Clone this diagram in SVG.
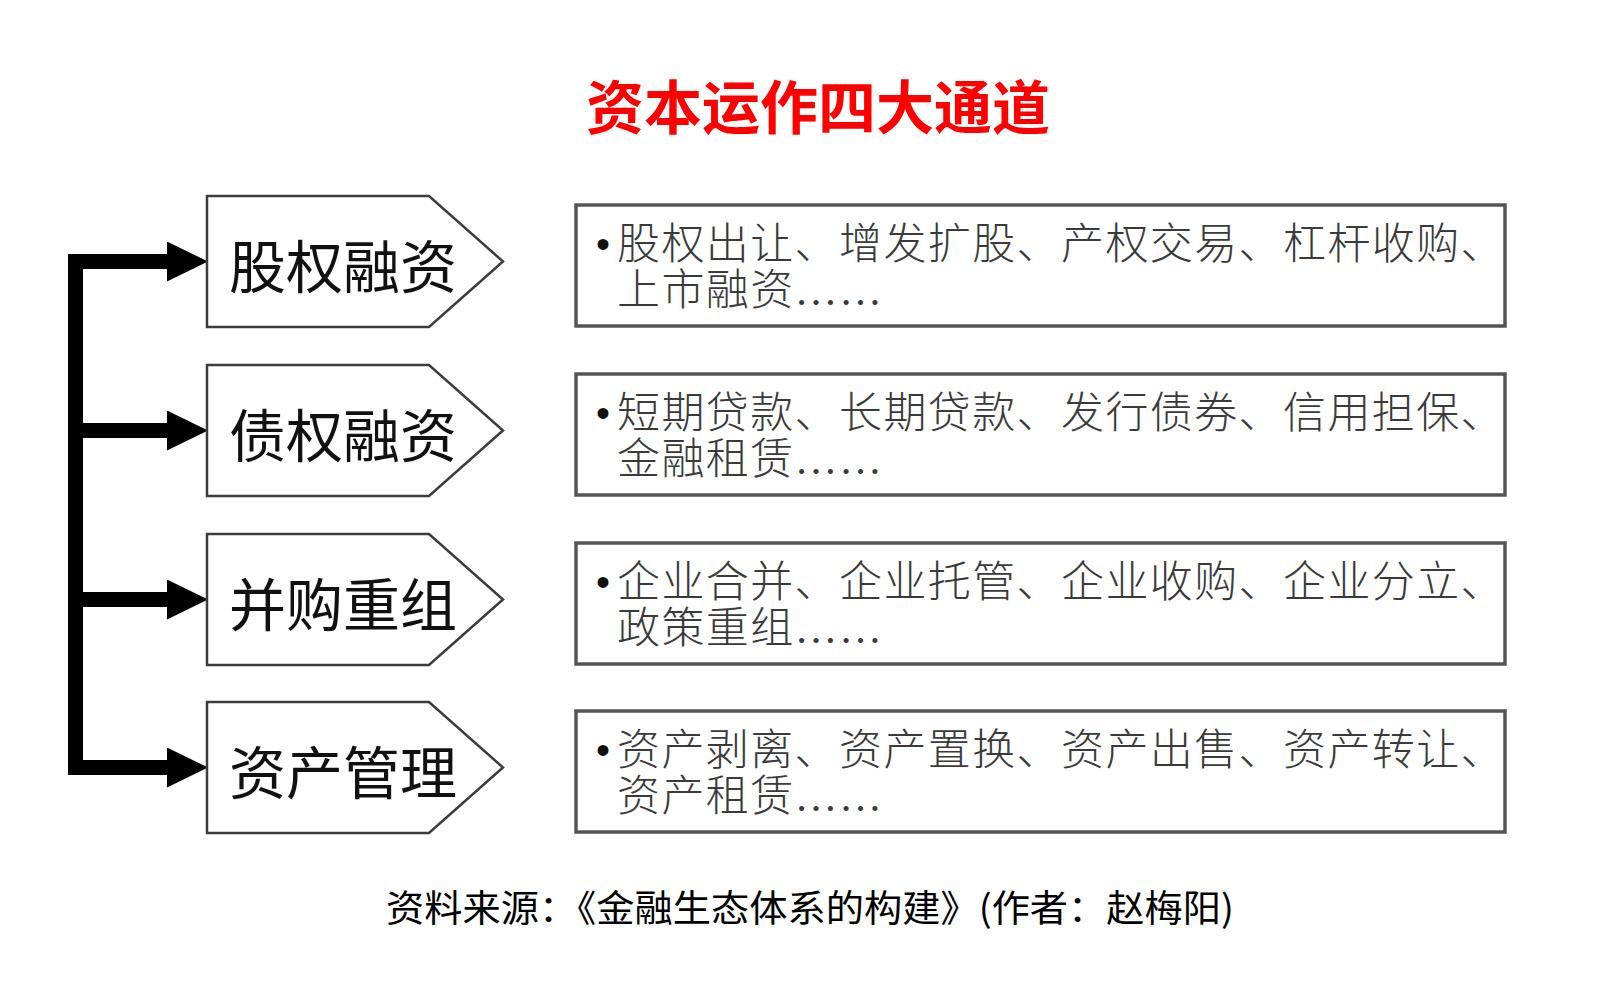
<svg xmlns="http://www.w3.org/2000/svg" width="1606" height="988" viewBox="0 0 1606 988">
<style>
.title{font-family:"Noto Sans CJK SC","Noto Sans",sans-serif;font-weight:700;font-size:58px;fill:#ff0000;text-anchor:middle}
.pent{fill:#ffffff;stroke:#3c3c3c;stroke-width:2.5}
.plabel{font-family:"Noto Sans CJK SC","Noto Sans",sans-serif;font-weight:400;font-size:57px;fill:#111111}
.box{fill:#ffffff;stroke:#555555;stroke-width:3.5}
.desc{font-family:"Noto Sans CJK SC","Noto Sans",sans-serif;font-weight:300;font-size:43px;letter-spacing:1.4px;fill:#3a3a3a}
.ell{font-family:"Liberation Serif",serif}
.bullet{font-family:"Liberation Sans",sans-serif;font-size:40px;fill:#111111;text-anchor:middle}
.conn{fill:none;stroke:#000000;stroke-width:15}
.foot{font-family:"Noto Sans CJK SC","Noto Sans",sans-serif;font-weight:400;font-size:37px;fill:#000000}
</style>
<defs>
<marker id="ah" markerUnits="userSpaceOnUse" markerWidth="42" markerHeight="40" refX="0" refY="20" orient="auto">
<path d="M0,0 L41,20 L0,40 Z" fill="#000000"/>
</marker>
</defs>
<rect width="1606" height="988" fill="#ffffff"/>
<g id="title"><text class="title" x="818" y="129">资本运作四大通道</text></g>
<g id="connectors">
<path class="conn" d="M75.5 254 V775"/>
<path class="conn" d="M68 261.5 H167" marker-end="url(#ah)"/>
<path class="conn" d="M75.5 430.5 H167" marker-end="url(#ah)"/>
<path class="conn" d="M75.5 599.5 H167" marker-end="url(#ah)"/>
<path class="conn" d="M68 767.5 H167" marker-end="url(#ah)"/>
</g>
<g id="node-equity">
<polygon class="pent" points="207,196 429,196 503,261.5 429,327 207,327"/>
<text class="plabel" x="229" y="288">股权融资</text>
</g>
<g id="node-debt">
<polygon class="pent" points="207,365 429,365 503,430.5 429,496 207,496"/>
<text class="plabel" x="229" y="457">债权融资</text>
</g>
<g id="node-ma">
<polygon class="pent" points="207,534 429,534 503,599.5 429,665 207,665"/>
<text class="plabel" x="229" y="626">并购重组</text>
</g>
<g id="node-asset">
<polygon class="pent" points="207,702 429,702 503,767.5 429,833 207,833"/>
<text class="plabel" x="229" y="794">资产管理</text>
</g>
<g id="box-equity">
<rect class="box" x="576" y="205" width="929" height="121"/>
<text class="bullet" x="603" y="258">•</text>
<text class="desc"><tspan x="617" y="259">股权出让、增发扩股、产权交易、杠杆收购、</tspan><tspan x="617" y="305">上市融资<tspan class="ell">……</tspan></tspan></text>
</g>
<g id="box-debt">
<rect class="box" x="576" y="374" width="929" height="121"/>
<text class="bullet" x="603" y="427">•</text>
<text class="desc"><tspan x="617" y="428">短期贷款、长期贷款、发行债券、信用担保、</tspan><tspan x="617" y="474">金融租赁<tspan class="ell">……</tspan></tspan></text>
</g>
<g id="box-ma">
<rect class="box" x="576" y="543" width="929" height="121"/>
<text class="bullet" x="603" y="596">•</text>
<text class="desc"><tspan x="617" y="597">企业合并、企业托管、企业收购、企业分立、</tspan><tspan x="617" y="643">政策重组<tspan class="ell">……</tspan></tspan></text>
</g>
<g id="box-asset">
<rect class="box" x="576" y="711" width="929" height="121"/>
<text class="bullet" x="603" y="764">•</text>
<text class="desc"><tspan x="617" y="765">资产剥离、资产置换、资产出售、资产转让、</tspan><tspan x="617" y="811">资产租赁<tspan class="ell">……</tspan></tspan></text>
</g>
<g id="source"><text class="foot" x="386" y="922" textLength="848" lengthAdjust="spacingAndGlyphs">资料来源：《金融生态体系的构建》(作者：赵梅阳)</text></g>
</svg>
